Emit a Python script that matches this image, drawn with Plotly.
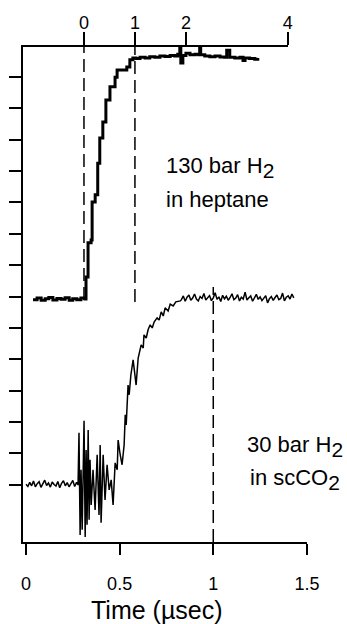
import plotly.graph_objects as go

# ---- data ----
# heptane trace (top time axis, units as on top scale)
hep_t = [-1.00,-0.92,-0.84,-0.76,-0.69,-0.61,-0.53,-0.45,-0.37,-0.29,-0.22,-0.14,-0.06,0.02,
         0.04,0.08,0.14,0.16,0.22,0.27,0.31,0.37,0.43,0.51,0.61,0.65,0.84,0.90,0.96,
         1.02,1.10,1.20,1.29,1.39,1.49,1.59,1.69,1.78,1.84,1.88,1.90,1.94,2.00,2.08,2.18,2.25,
         2.27,2.29,2.37,2.47,2.57,2.67,2.76,2.80,2.86,2.96,3.06,3.12,3.16,3.25,3.35,3.41]
hep_v = [5.90,5.95,5.88,5.93,5.97,5.89,5.94,5.91,5.96,5.88,5.93,5.90,5.95,5.92,
         6.62,7.71,7.80,9.01,9.24,10.25,11.05,11.56,12.26,12.68,12.99,13.22,13.31,13.54,13.60,
         13.58,13.62,13.60,13.64,13.62,13.66,13.65,13.68,13.66,13.72,13.95,13.44,13.68,13.75,13.70,13.72,13.70,
         13.95,13.70,13.66,13.64,13.66,13.63,13.62,13.85,13.62,13.60,13.62,13.52,13.60,13.58,13.56,13.60]

# scCO2 trace (bottom time axis, usec)
co2_base_t = [0.00,0.01,0.02,0.03,0.04,0.05,0.06,0.07,0.08,0.09,0.10,0.11,0.12,0.13,
              0.14,0.15,0.16,0.17,0.18,0.19,0.20,0.21,0.22,0.23,0.24,0.25,0.26,0.27]
co2_base_v = [0.02,-0.05,0.08,-0.03,0.12,-0.06,0.04,0.10,-0.08,0.03,0.15,-0.02,0.06,-0.07,
              0.09,0.01,-0.04,0.11,-0.09,0.05,0.13,-0.03,0.07,-0.06,0.02,0.14,-0.05,0.08]
co2_rise_t = [0.278,0.283,0.289,0.294,0.300,0.305,0.310,0.316,0.321,0.326,0.332,0.337,0.342,0.348,
              0.358,0.369,0.380,0.390,0.396,0.401,0.412,0.422,0.433,0.444,0.455,0.465,0.476,0.487,
              0.492,0.503,0.513,0.524,0.530,0.535,0.545,0.551,0.560,0.572,0.583,0.588,0.599,0.610,
              0.615,0.626,0.630,0.642,0.652,0.663,0.674,0.684,0.700,0.711,0.722,0.733,0.743,0.759,
              0.770,0.786,0.800,0.824]
co2_rise_v = [0.00,1.66,-1.60,0.48,-1.43,1.40,2.04,-1.66,1.11,-1.27,1.75,-1.11,0.80,-0.64,
              0.48,-0.80,0.96,-0.96,1.27,-1.21,0.96,-0.48,0.64,-0.16,0.16,-0.64,0.70,0.48,
              1.43,0.96,0.64,1.27,2.23,1.91,3.18,2.87,3.50,3.98,3.34,3.18,4.04,4.30,
              4.46,4.36,4.78,4.68,4.94,5.10,5.00,5.19,5.32,5.25,5.51,5.38,5.64,5.54,
              5.76,5.70,5.83,5.86]
co2_plat_t = [0.83,0.84,0.85,0.86,0.87,0.88,0.89,0.90,0.91,0.92,0.93,0.94,0.95,0.96,0.97,0.98,0.99,
              1.00,1.01,1.02,1.03,1.04,1.05,1.06,1.07,1.08,1.09,1.10,1.11,1.12,1.13,1.14,1.15,1.16,
              1.17,1.18,1.19,1.20,1.21,1.22,1.23,1.24,1.25,1.26,1.27,1.28,1.29,1.30,1.31,1.32,1.33,
              1.34,1.35,1.36,1.37,1.38,1.39,1.40,1.41,1.42,1.43]
co2_plat_v = [5.90,6.02,5.85,5.98,6.05,5.88,5.95,6.08,5.92,5.86,6.00,5.94,6.10,5.89,5.97,6.03,5.87,
              5.96,6.12,5.91,5.99,5.84,6.04,5.93,6.01,5.88,5.97,6.09,5.90,5.95,6.06,5.86,5.98,5.92,
              6.14,5.89,5.96,6.02,5.85,5.94,6.07,5.91,5.99,5.87,5.95,6.03,5.80,5.93,6.00,5.88,5.97,
              6.05,5.90,5.94,6.11,5.86,5.98,6.02,5.92,6.08,5.96]

bottom_ticks = [0, 0.5, 1, 1.5]
bottom_labels = ["0", "0.5", "1", "1.5"]
top_ticks = [0, 1, 2, 4]
top_labels = ["0", "1", "2", "4"]
y_ticks = list(range(0, 14))

# dashed markers: (axis value, lower end / upper end)
hep_marks = [(0, 5.89), (1, 5.83)]
co2_marks = [(1, 6.30)]

co2_t = co2_base_t + co2_rise_t + co2_plat_t
co2_v = co2_base_v + co2_rise_v + co2_plat_v

FONT = "Liberation Sans, Arial, sans-serif"
YMIN, YMAX = -1.82, 13.95

fig = go.Figure()
fig.add_trace(go.Scatter(x=hep_t, y=hep_v, xaxis="x2", yaxis="y", mode="lines",
                         line=dict(color="black", width=3, shape="hv"), showlegend=False))
fig.add_trace(go.Scatter(x=co2_t, y=co2_v, xaxis="x", yaxis="y", mode="lines",
                         line=dict(color="black", width=1.5), showlegend=False))

shapes = []
for xv, lo in hep_marks:
    shapes.append(dict(type="line", xref="x2", yref="y", x0=xv, x1=xv, y0=lo, y1=YMAX,
                       line=dict(color="black", width=1.5, dash="13px,6px")))
for xv, hi in co2_marks:
    shapes.append(dict(type="line", xref="x", yref="y", x0=xv, x1=xv, y0=YMIN, y1=hi,
                       line=dict(color="black", width=1.5, dash="13px,6px")))

ann_font = dict(family=FONT, size=22, color="black")
SUB2 = "<sub><span style='font-size:21px'>2</span></sub>"
annotations = [
    dict(text="130 bar H" + SUB2, xref="x", yref="y", x=0.735, y=10.1,
         xanchor="left", yanchor="middle", showarrow=False, font=ann_font),
    dict(text="in heptane", xref="x", yref="y", x=0.735, y=9.1,
         xanchor="left", yanchor="middle", showarrow=False, font=ann_font),
    dict(text="30 bar H" + SUB2, xref="paper", yref="y", x=1.135, y=1.21,
         xanchor="right", yanchor="middle", showarrow=False, font=ann_font),
    dict(text="in scCO" + SUB2, xref="paper", yref="y", x=1.124, y=0.16,
         xanchor="right", yanchor="middle", showarrow=False, font=ann_font),
    dict(text="Time (µsec)", xref="paper", yref="paper", x=0.472, y=-0.137,
         xanchor="center", yanchor="middle", showarrow=False,
         font=dict(family=FONT, size=25, color="black")),
]

fig.update_layout(
    width=347, height=624,
    margin=dict(l=23, r=40, t=47, b=82),
    paper_bgcolor="white", plot_bgcolor="rgba(0,0,0,0)",
    font=dict(family=FONT, color="black"),
    shapes=shapes, annotations=annotations,
    xaxis=dict(domain=[0, 1], range=[-0.016, 1.5005], anchor="y",
               tickvals=bottom_ticks, ticktext=bottom_labels,
               ticks="outside", ticklen=11, tickwidth=1.5, tickcolor="black",
               showline=True, linecolor="black", linewidth=1.5,
               showgrid=False, zeroline=False,
               tickfont=dict(family=FONT, size=18), ticklabelstandoff=14),
    xaxis2=dict(domain=[0, 0.933], range=[-1.196, 4.002], anchor="y", side="top",
                tickvals=top_ticks, ticktext=top_labels,
                ticks="outside", ticklen=13, tickwidth=1.5, tickcolor="black",
                showline=True, linecolor="black", linewidth=1.5,
                showgrid=False, zeroline=False,
                tickfont=dict(family=FONT, size=18), ticklabelstandoff=-4),
    yaxis=dict(domain=[0, 1], range=[YMIN, YMAX], anchor="x",
               tickvals=y_ticks, showticklabels=False,
               ticks="outside", ticklen=12, tickwidth=1.5, tickcolor="black",
               showline=True, linecolor="black", linewidth=1.5,
               showgrid=False, zeroline=False),
)

fig.write_html("out.html", config={"displayModeBar": False},
               post_script="document.body.style.margin='0';")
